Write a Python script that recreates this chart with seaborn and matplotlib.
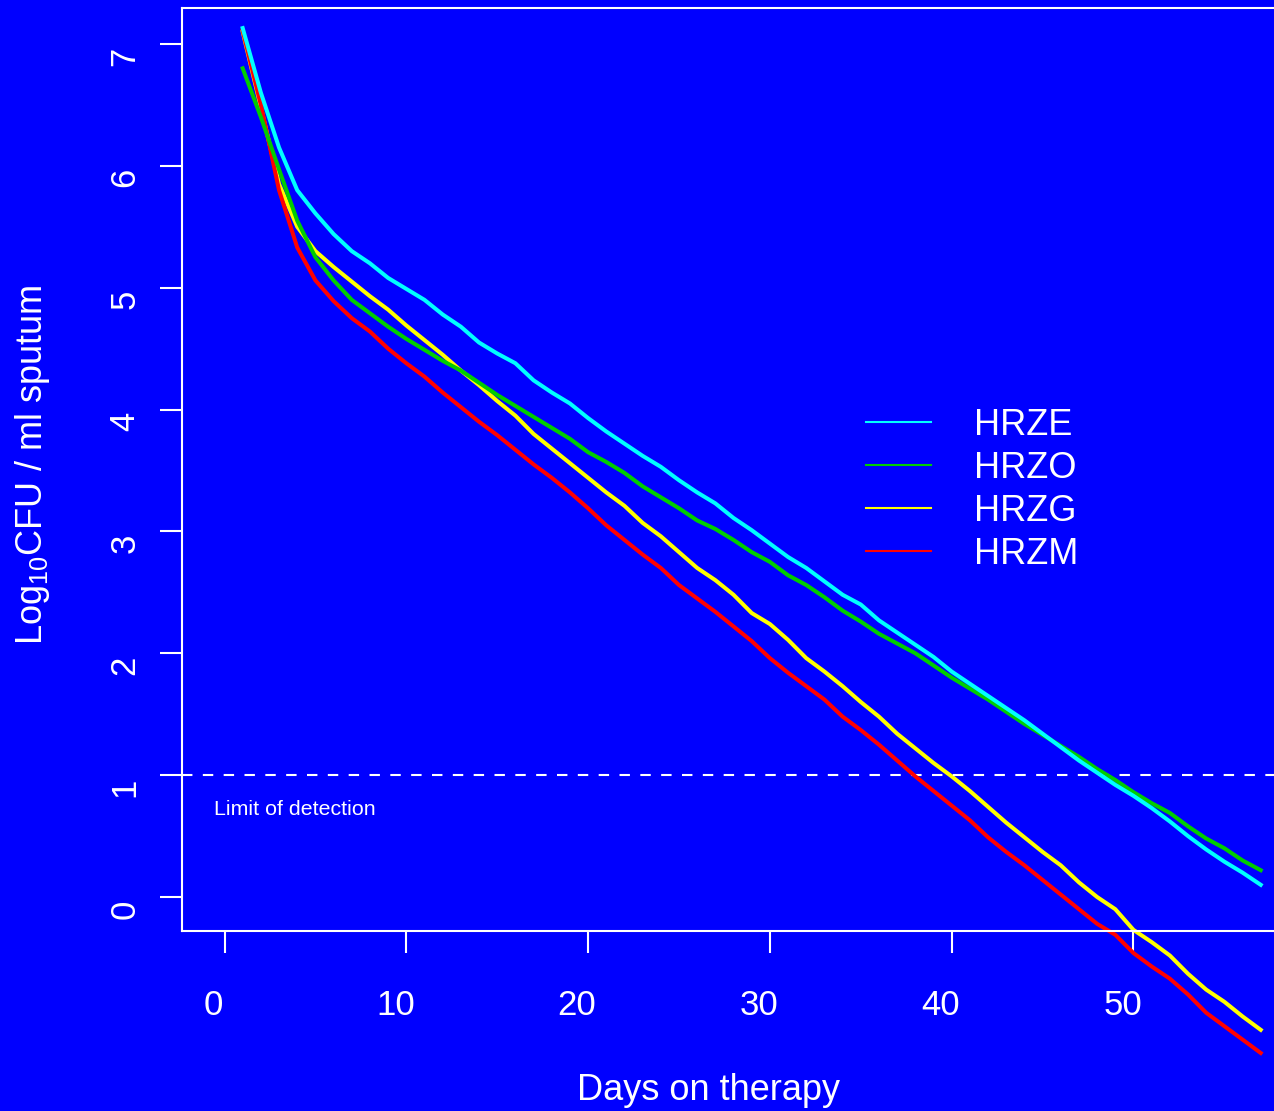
import numpy as np
import pandas as pd
import seaborn as sns
import matplotlib.pyplot as plt
from matplotlib.transforms import ScaledTranslation

plt.rcParams["font.family"] = ["Liberation Sans", "DejaVu Sans"]
plt.rcParams["mathtext.default"] = "regular"

# %% values (log10 CFU per day)
days = list(range(1, 58))
hrze = [7.13, 6.60, 6.15, 5.80, 5.61, 5.44, 5.30, 5.20, 5.08, 4.99,
        4.90, 4.78, 4.68, 4.55, 4.46, 4.38, 4.24, 4.14, 4.05, 3.93,
        3.82, 3.72, 3.62, 3.53, 3.42, 3.32, 3.23, 3.11, 3.01, 2.90,
        2.79, 2.70, 2.59, 2.48, 2.40, 2.27, 2.17, 2.07, 1.97, 1.85,
        1.75, 1.65, 1.55, 1.45, 1.34, 1.23, 1.12, 1.02, 0.92, 0.83,
        0.73, 0.62, 0.50, 0.39, 0.29, 0.20, 0.10]
hrzo = [6.80, 6.40, 5.97, 5.55, 5.25, 5.06, 4.90, 4.79, 4.68, 4.58,
        4.49, 4.40, 4.32, 4.22, 4.12, 4.03, 3.94, 3.85, 3.76, 3.65,
        3.57, 3.48, 3.37, 3.28, 3.19, 3.09, 3.02, 2.93, 2.83, 2.75,
        2.64, 2.56, 2.46, 2.35, 2.26, 2.16, 2.08, 2.00, 1.90, 1.80,
        1.71, 1.62, 1.52, 1.42, 1.33, 1.24, 1.15, 1.05, 0.96, 0.86,
        0.77, 0.69, 0.58, 0.48, 0.40, 0.30, 0.22]
hrzg = [7.10, 6.48, 5.85, 5.50, 5.30, 5.17, 5.05, 4.93, 4.82, 4.69,
        4.57, 4.45, 4.32, 4.20, 4.07, 3.95, 3.80, 3.68, 3.56, 3.44,
        3.32, 3.21, 3.07, 2.96, 2.83, 2.70, 2.60, 2.48, 2.33, 2.24,
        2.11, 1.96, 1.85, 1.73, 1.60, 1.48, 1.34, 1.22, 1.10, 0.99,
        0.87, 0.74, 0.61, 0.49, 0.37, 0.26, 0.12, 0.00, -0.10, -0.27,
        -0.37, -0.48, -0.63, -0.76, -0.86, -0.98, -1.09]
hrzm = [7.11, 6.50, 5.80, 5.33, 5.06, 4.89, 4.75, 4.64, 4.50, 4.38,
        4.27, 4.14, 4.02, 3.90, 3.79, 3.67, 3.55, 3.44, 3.32, 3.19,
        3.05, 2.93, 2.81, 2.70, 2.56, 2.45, 2.34, 2.22, 2.10, 1.96,
        1.84, 1.73, 1.62, 1.48, 1.37, 1.25, 1.12, 0.99, 0.87, 0.75,
        0.63, 0.49, 0.37, 0.26, 0.14, 0.02, -0.10, -0.22, -0.31, -0.46,
        -0.57, -0.67, -0.80, -0.95, -1.06, -1.17, -1.28]

regimens = ["HRZE", "HRZO", "HRZG", "HRZM"]
colors = ["#00FFFF", "#00CD00", "#FFFF00", "#FF0000"]
lod = 1.0

df = pd.DataFrame({
    "day": days * 4,
    "cfu": hrze + hrzo + hrzg + hrzm,
    "regimen": np.repeat(regimens, len(days)),
})

# %%
blue = "#0000FF"
fig = plt.figure(figsize=(12.74, 11.11), dpi=100, facecolor=blue)
ax = fig.add_axes([182 / 1274, 180 / 1111, (1300 - 182) / 1274, 923 / 1111])
ax.set_facecolor(blue)

sns.lineplot(data=df, x="day", y="cfu", hue="regimen", hue_order=regimens,
             palette=dict(zip(regimens, colors)), linewidth=2.9,
             errorbar=None, clip_on=False, ax=ax)

# drawing order: cyan on top
for line, z in zip(ax.lines[:4], [2.3, 2.2, 2.0, 2.1]):
    line.set_zorder(z)

ax.axhline(lod, color="white", linestyle=(0, (5, 5)), linewidth=1.5)
ax.text(-0.58, 0.72, "Limit of detection", color="white", fontsize=15.4,
        ha="left", va="center")

ax.set_xlim(-2.338, 59.16)
ax.set_ylim(-0.279, 7.295)
ax.set_xticks(range(0, 51, 10))
ax.set_yticks(range(0, 8))

ax.tick_params(axis="both", colors="white", direction="out", length=16,
               width=1.5, labelsize=25)
ax.tick_params(axis="x", pad=25.8)
ax.tick_params(axis="y", labelrotation=90, pad=13.2)
for lab in ax.get_yticklabels():
    lab.set_verticalalignment("center")
    lab.set_transform(lab.get_transform()
                      + ScaledTranslation(0, -0.12, fig.dpi_scale_trans))
for lab in ax.get_xticklabels():
    lab.set_transform(lab.get_transform()
                      + ScaledTranslation(-0.11, 0, fig.dpi_scale_trans))

for side in ["top", "left", "bottom"]:
    ax.spines[side].set_color("white")
    ax.spines[side].set_linewidth(1.5)
ax.spines["right"].set_visible(False)

ax.set_xlabel("Days on therapy", color="white", fontsize=26, labelpad=37)
ax.xaxis.label.set_x((709 - 182) / (1300 - 182))
ax.set_ylabel("Log$_{10}$CFU / ml sputum", color="white", fontsize=26,
              labelpad=41)
ax.yaxis.label.set_y(0.5049)

sns.move_legend(ax, "upper left", bbox_to_anchor=(866 / 1274, 1 - 408 / 1111),
                bbox_transform=fig.transFigure, title=None, frameon=False,
                fontsize=26, labelcolor="white", handlelength=1.8,
                handletextpad=1.2, labelspacing=0.22, borderpad=0,
                borderaxespad=0)
for h in ax.get_legend().get_lines():
    h.set_linewidth(1.5)

fig.savefig("out.png", dpi=100, facecolor=blue)
